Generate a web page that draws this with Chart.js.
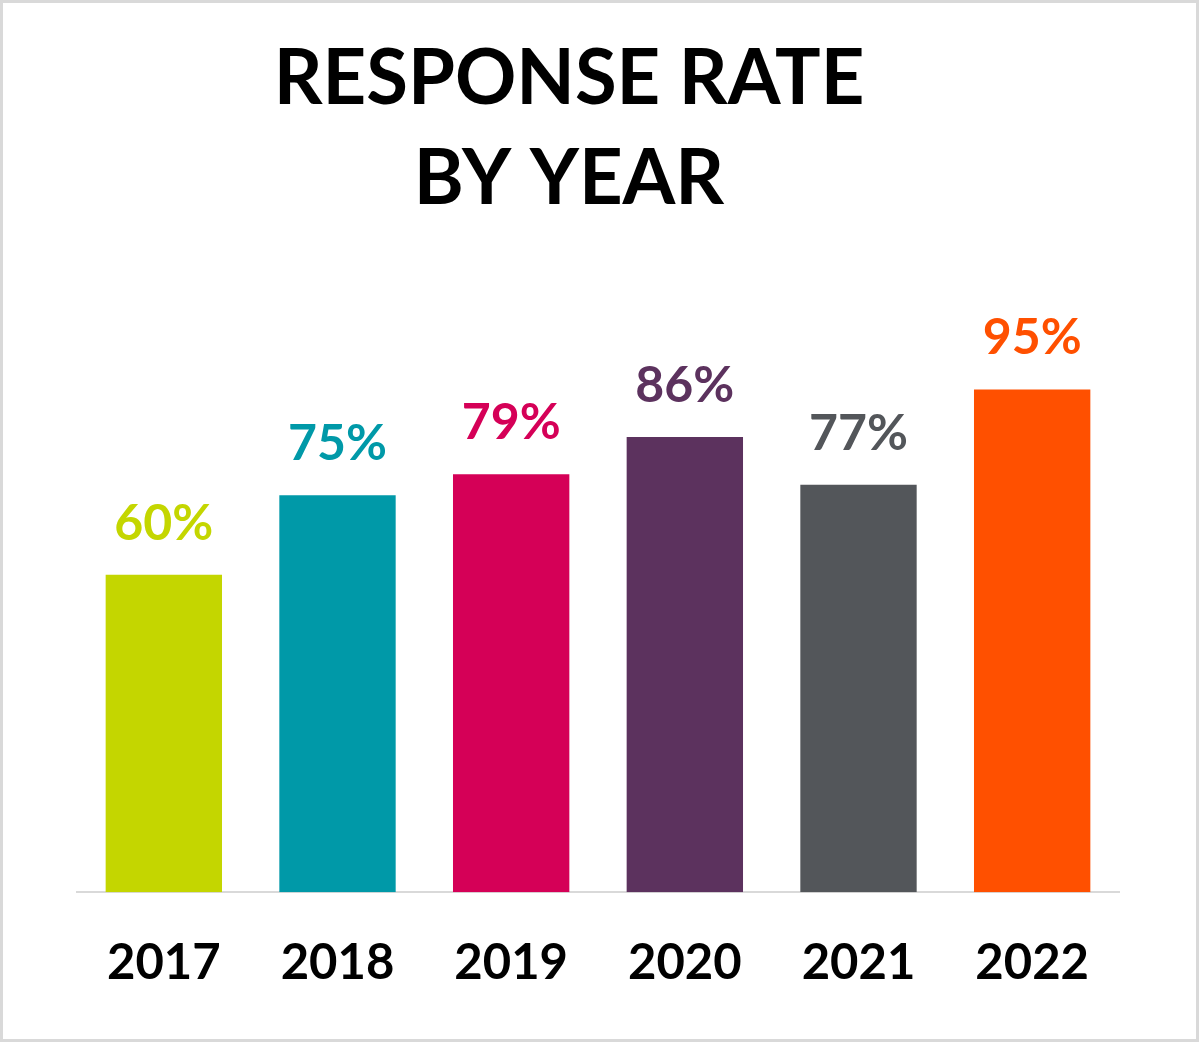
<!DOCTYPE html>
<html>
<head>
<meta charset="utf-8">
<script src="https://cdn.jsdelivr.net/npm/chart.js@4/dist/chart.umd.min.js"></script>
<style>
  html, body { margin: 0; padding: 0; background: #fff; }
  #wrap {
    width: 1199px;
    height: 1042px;
    box-sizing: border-box;
    border: 3px solid #d9d9d9;
    position: relative;
  }
  #chart { display: block; }
</style>
</head>
<body>
<div id="wrap"><canvas id="chart" width="1193" height="1036"></canvas></div>
<script>
const years = ["2017", "2018", "2019", "2020", "2021", "2022"];
const rates = [60, 75, 79, 86, 77, 95];
const barColors = ["#c4d600", "#0099a8", "#d50057", "#5c325e", "#53565a", "#ff5000"];
const titleLines = ["RESPONSE RATE", "BY YEAR"];

const FONT = "Lato, 'Open Sans', sans-serif";

// title sits a bit left of centre in the original, so draw it by hand
const titleText = {
  id: "titleText",
  afterDraw(chart) {
    const ctx = chart.ctx;
    ctx.save();
    ctx.font = "bold 76px " + FONT;
    ctx.fillStyle = "#000";
    ctx.textAlign = "center";
    ctx.textBaseline = "alphabetic";
    ctx.fillText(titleLines[0], 566, 101);
    ctx.fillText(titleLines[1], 566, 201);
    ctx.restore();
  },
};

// draws "60%" etc above each bar, in the bar's colour
const valueLabels = {
  id: "valueLabels",
  afterDatasetsDraw(chart) {
    const ctx = chart.ctx;
    const meta = chart.getDatasetMeta(0);
    ctx.save();
    ctx.font = "bold 50px " + FONT;
    ctx.textAlign = "center";
    ctx.textBaseline = "alphabetic";
    meta.data.forEach((bar, i) => {
      ctx.fillStyle = barColors[i];
      ctx.fillText(rates[i] + "%", bar.x, bar.y - 35);
    });
    ctx.restore();
  },
};

const ctx = document.getElementById("chart");
const chart = new Chart(ctx, {
  type: "bar",
  data: {
    labels: years,
    datasets: [
      {
        data: rates,
        backgroundColor: barColors,
        borderWidth: 0,
        barPercentage: 0.67,
        categoryPercentage: 1,
      },
    ],
  },
  options: {
    responsive: false,
    animation: false,
    layout: {
      padding: { left: 74, right: 77, top: 360, bottom: 4 },
    },
    plugins: {
      legend: { display: false },
      tooltip: { enabled: false },
      title: { display: false },
    },
    scales: {
      x: {
        grid: { display: false, drawTicks: false },
        border: { display: true, color: "#d9d9d9", width: 2 },
        ticks: {
          color: "#000",
          padding: 42,
          font: { family: FONT, size: 49, weight: "bold" },
        },
      },
      y: {
        display: false,
        min: 0,
        max: 100,
      },
    },
  },
  plugins: [valueLabels, titleText],
});
</script>
</body>
</html>
